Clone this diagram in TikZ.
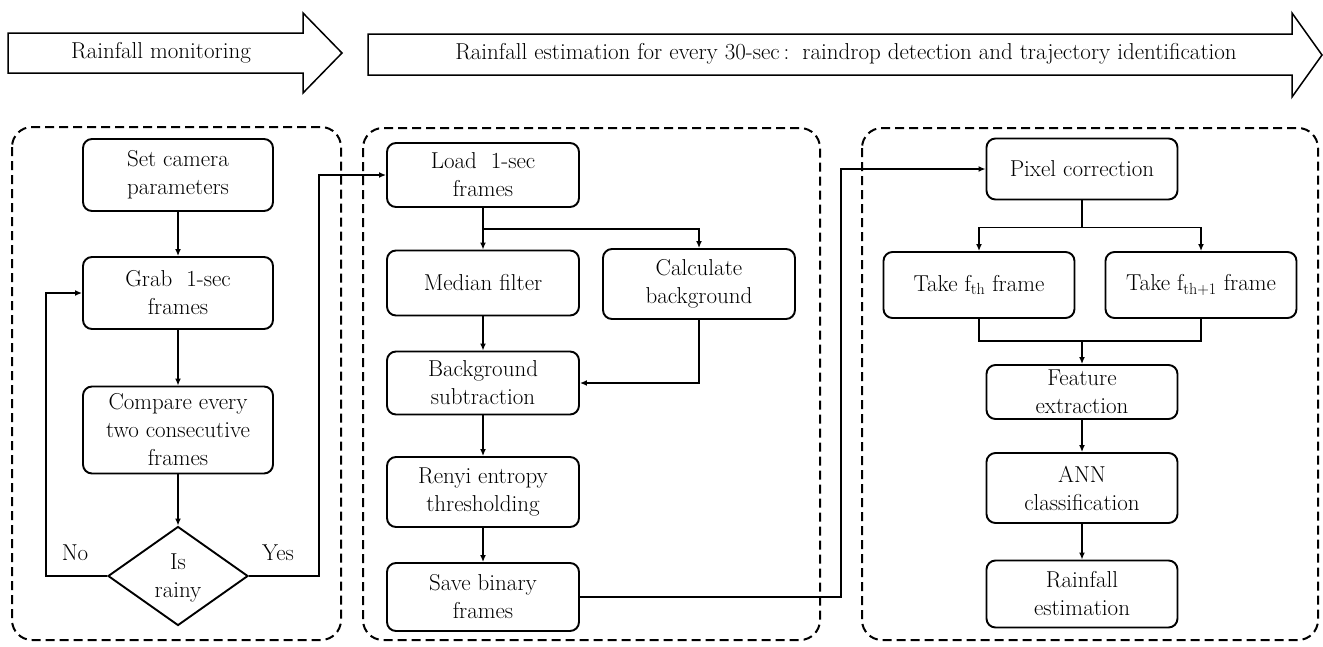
\documentclass[tikz,border=0pt]{standalone}
\usetikzlibrary{shapes.geometric,arrows.meta}
\begin{document}
\begin{tikzpicture}[x=1pt,y=-1pt,
  box/.style={draw, line width=1.9pt, rounded corners=9pt, align=center,
    inner sep=0pt, font=\fontsize{23}{28}\selectfont},
  conn/.style={line width=1.4pt, -{Latex[length=7pt,width=6pt]}},
  plain/.style={line width=1.4pt},
  panel/.style={draw, line width=2pt, dash pattern=on 9pt off 5pt, rounded corners=20pt},
  bigarrow/.style={draw, line width=1.5pt, fill=white},
  lbl/.style={font=\fontsize{23}{28}\selectfont, inner sep=0pt}]
\useasboundingbox (0,0) rectangle (1323,646);

% top arrows
\draw[bigarrow] (8,33) -- (303,33) -- (303,13) -- (342,53) -- (303,93) -- (303,73) -- (8,73) -- cycle;
\node[lbl] (t1) at (161,53) {Rainfall monitoring};
\draw[bigarrow] (368,34) -- (1292,34) -- (1292,13) -- (1322,55) -- (1292,97) -- (1292,75) -- (368,75) -- cycle;
\node[lbl] (t2) at (846,54) {Rainfall estimation for every 30-sec\,:\, raindrop detection and trajectory identification};

% panels
\draw[panel] (12,127) rectangle (341,640);
\draw[panel] (363,128) rectangle (820,640);
\draw[panel] (862,128) rectangle (1318,640);

% left panel
\node[box, minimum width=190pt, minimum height=72pt] (set) at (178,175) {Set camera\\parameters};
\node[box, minimum width=190pt, minimum height=72pt] (grab) at (178,293) {Grab\ \ 1-sec\\frames};
\node[box, minimum width=190pt, minimum height=87pt] (cmp) at (178,430) {Compare every\\two consecutive\\frames};
\node[draw, diamond, line width=1.9pt, minimum width=140pt, minimum height=99pt, inner sep=0pt] (dia) at (178,576) {};
\node[lbl, align=center] (diat) at (178,578) {Is\\rainy};
\node[lbl] (no) at (75,553) {No};
\node[lbl] (yes) at (278,553) {Yes};

% middle panel
\node[box, minimum width=192pt, minimum height=64pt] (load) at (483,175) {Load\ \ 1-sec\\frames};
\node[box, minimum width=192pt, minimum height=65pt] (med) at (483,283) {Median filter};
\node[box, minimum width=192pt, minimum height=70pt] (calc) at (699,284) {Calculate\\background};
\node[box, minimum width=192pt, minimum height=63pt] (bs) at (483,383) {Background\\subtraction};
\node[box, minimum width=192pt, minimum height=70pt] (ren) at (483,492) {Renyi entropy\\thresholding};
\node[box, minimum width=192pt, minimum height=68pt] (save) at (483,597) {Save binary\\frames};

% right panel
\node[box, minimum width=191pt, minimum height=61pt] (pix) at (1082,169) {Pixel correction};
\node[box, minimum width=191pt, minimum height=66pt] (tf) at (979,285) {Take f\textsubscript{th} frame};
\node[box, minimum width=191pt, minimum height=66pt] (tf1) at (1201,285) {Take f\textsubscript{th+1} frame};
\node[box, minimum width=191pt, minimum height=54pt] (feat) at (1082,392) {Feature\\extraction};
\node[box, minimum width=191pt, minimum height=70pt] (ann) at (1082,488) {ANN\\classification};
\node[box, minimum width=191pt, minimum height=67pt] (rain) at (1082,594) {Rainfall\\estimation};
\coordinate (m) at (1082,341);

% connectors left
\draw[conn] (set) -- (grab);
\draw[conn] (grab) -- (cmp);
\draw[conn] (cmp) -- (dia);
\draw[conn] (dia.west) -- ++(-61,0) |- (grab.west);
\draw[conn] (dia.east) -- ++(70,0) |- (load.west);

% connectors middle
\draw[conn] (load) -- (med);
\draw[conn] (load.south) -- ++(0,21) -| (calc.north);
\draw[conn] (med) -- (bs);
\draw[conn] (calc.south) |- (bs.east);
\draw[conn] (bs) -- (ren);
\draw[conn] (ren) -- (save);
\draw[conn] (save.east) -- ++(261,0) |- (pix.west);

% connectors right
\draw[conn] (pix.south) -- ++(0,27) -| (tf.north);
\draw[conn] (pix.south) -- ++(0,27) -| (tf1.north);
\draw[plain] (tf.south) |- (m) -| (tf1.south);
\draw[conn] (m) -- (feat.north);
\draw[conn] (feat) -- (ann);
\draw[conn] (ann) -- (rain);
\end{tikzpicture}
\end{document}
